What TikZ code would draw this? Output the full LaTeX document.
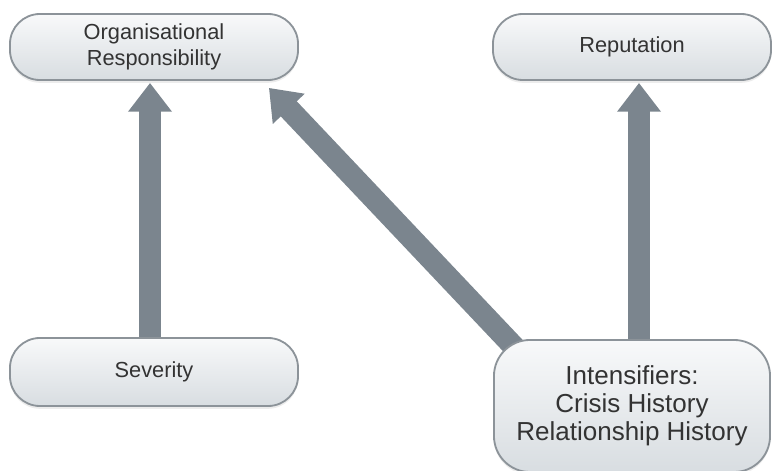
\documentclass[tikz,border=0pt]{standalone}
\usepackage{fontspec}
\setmainfont{Liberation Sans}
\usetikzlibrary{arrows.meta,calc,backgrounds,shadows}
\definecolor{boxline}{HTML}{8C9399}
\definecolor{boxtop}{HTML}{F8F9FA}
\definecolor{boxmid}{HTML}{EAEDF0}
\definecolor{boxbot}{HTML}{D8DDE1}
\definecolor{arrowgrey}{HTML}{7B858E}
\definecolor{textgrey}{HTML}{333333}
\tikzset{
  stadium/.style={draw=boxline, line width=1.3pt, rounded corners=0.75cm,
    top color=boxtop, middle color=boxmid, bottom color=boxbot,
    text=textgrey, align=center, font=\fontsize{15.5}{18}\selectfont,
    drop shadow={opacity=0.15,shadow xshift=0pt,shadow yshift=-2pt}},
  blockarrow/.style={draw=arrowgrey, line width=0.55cm,
    -{Triangle[width=1.05cm,length=0.72cm]}}
}
\begin{document}
\begin{tikzpicture}[x=0.025cm,y=-0.025cm]
                \useasboundingbox (0,0) rectangle (776,471);

                \node[stadium, minimum width=7.2cm, minimum height=1.65cm] (org) at (154,47) {Organisational\\Responsibility};
                \node[stadium, minimum width=6.95cm, minimum height=1.65cm] (rep) at (632,47) {Reputation};
                \node[stadium, minimum width=7.2cm, minimum height=1.7cm] (sev) at (154,372) {Severity};
                \node[stadium, minimum width=6.9cm, minimum height=3.3cm, rounded corners=0.9cm,
                      font=\fontsize{18.5}{20}\selectfont] (int) at (632,406) {Intensifiers:\\Crisis History\\Relationship History};

                % arrows behind the boxes
                \begin{scope}[on background layer]
                \draw[blockarrow] ($(sev.north)+(-4,0)$) -- ($(org.south)+(-4,2)$);
                \draw[blockarrow] ($(int.north)+(7,0)$) -- ($(rep.south)+(7,2)$);
                \draw[blockarrow] ($(int.north west)+(25,12)$) -- ($(org.south east)+(-30,7)$);
                \end{scope}
            \end{tikzpicture}
\end{document}
